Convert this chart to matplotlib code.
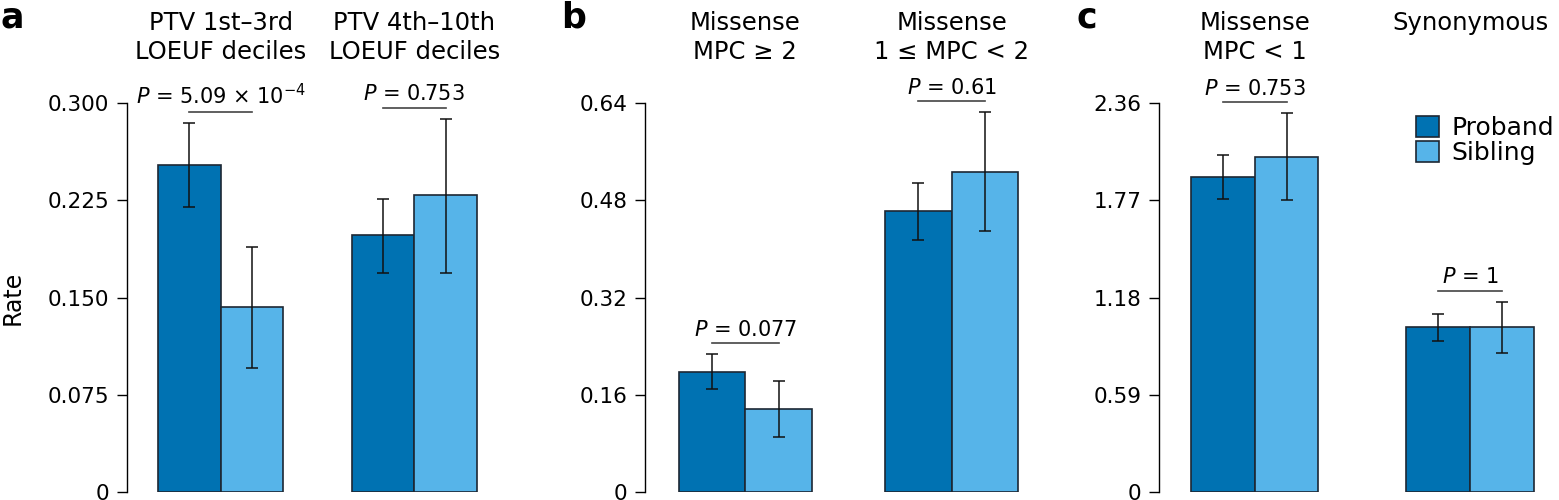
import matplotlib.pyplot as plt
import matplotlib.transforms as mtrans
from matplotlib.patches import Patch
import numpy as np

plt.rcParams['font.family'] = ['DejaVu Sans']
plt.rcParams['mathtext.fontset'] = 'dejavusans'

# ---- data ----
titles_a = ['PTV 1st\u20133rd\nLOEUF deciles', 'PTV 4th\u201310th\nLOEUF deciles']
proband_a = [0.252, 0.198]
proband_a_lo = [0.220, 0.169]
proband_a_hi = [0.285, 0.226]
sibling_a = [0.143, 0.229]
sibling_a_lo = [0.096, 0.169]
sibling_a_hi = [0.189, 0.288]
pvals_a = ['$P$ = 5.09 \u00d7 10$^{-4}$', '$P$ = 0.753']
yticks_a = ['0', '0.075', '0.150', '0.225', '0.300']

titles_b = ['Missense\nMPC \u2265 2', 'Missense\n1 \u2264 MPC < 2']
proband_b = [0.198, 0.462]
proband_b_lo = [0.170, 0.415]
proband_b_hi = [0.227, 0.509]
sibling_b = [0.137, 0.527]
sibling_b_lo = [0.091, 0.430]
sibling_b_hi = [0.183, 0.625]
pvals_b = ['$P$ = 0.077', '$P$ = 0.61']
yticks_b = ['0', '0.16', '0.32', '0.48', '0.64']

titles_c = ['Missense\nMPC < 1', 'Synonymous']
proband_c = [1.914, 1.000]
proband_c_lo = [1.781, 0.919]
proband_c_hi = [2.048, 1.079]
sibling_c = [2.036, 1.000]
sibling_c_lo = [1.773, 0.846]
sibling_c_hi = [2.301, 1.154]
pvals_c = ['$P$ = 0.753', '$P$ = 1']
yticks_c = ['0', '0.59', '1.18', '1.77', '2.36']

panels = [
    ('a', titles_a, proband_a, proband_a_lo, proband_a_hi, sibling_a, sibling_a_lo, sibling_a_hi, pvals_a, yticks_a),
    ('b', titles_b, proband_b, proband_b_lo, proband_b_hi, sibling_b, sibling_b_lo, sibling_b_hi, pvals_b, yticks_b),
    ('c', titles_c, proband_c, proband_c_lo, proband_c_hi, sibling_c, sibling_c_lo, sibling_c_hi, pvals_c, yticks_c),
]

c_proband = '#0072B2'
c_sibling = '#56B4E9'
edge = '#1d2733'

W, H = 1559, 500
fig = plt.figure(figsize=(W / 100, H / 100), dpi=100)

# layout in pixels: spine x, group centres, bar width (px), letter x
layout = [
    (127, 220.7, 414.3, 62.5, 0),
    (645.3, 745.3, 951.7, 66.7, 561),
    (1159.3, 1254.7, 1470.0, 63.7, 1076),
]
y_top, y_bot = 103.3, 492.0

for i, (letter, titles, pr, pr_lo, pr_hi, sb, sb_lo, sb_hi, pv, ytl) in enumerate(panels):
    spine, c0, c1, bw_px, lx = layout[i]
    unit = c1 - c0
    xl = -(c0 - spine) / unit
    xr = 1.5
    ax = fig.add_axes([spine / W, 1 - y_bot / H, (xr - xl) * unit / W, (y_bot - y_top) / H])
    x = np.arange(len(pr))
    bw = bw_px / unit
    ymax = float(ytl[-1])

    ax.bar(x - bw / 2, pr, bw, color=c_proband, edgecolor=edge, linewidth=1.2, zorder=2)
    ax.bar(x + bw / 2, sb, bw, color=c_sibling, edgecolor=edge, linewidth=1.2, zorder=2)
    pr_a, sb_a = np.array(pr), np.array(sb)
    ax.errorbar(x - bw / 2, pr_a, yerr=[pr_a - np.array(pr_lo), np.array(pr_hi) - pr_a],
                fmt='none', ecolor='#111111', elinewidth=1.1, capsize=4, capthick=1.1, zorder=3)
    ax.errorbar(x + bw / 2, sb_a, yerr=[sb_a - np.array(sb_lo), np.array(sb_hi) - sb_a],
                fmt='none', ecolor='#111111', elinewidth=1.1, capsize=4, capthick=1.1, zorder=3)

    ax.set_xlim(xl, xr)
    ax.set_ylim(0, ymax)
    ax.set_yticks(np.linspace(0, ymax, 5))
    ax.set_yticklabels(ytl)
    ax.set_xticks([])
    for s in ['top', 'right', 'bottom']:
        ax.spines[s].set_visible(False)
    ax.spines['left'].set_linewidth(1.0)
    ax.tick_params(axis='y', direction='out', length=7, width=1.0, pad=6, labelsize=15.5)

    # significance lines + P values
    for g in range(len(pr)):
        top = max(pr_hi[g], sb_hi[g])
        ly = top + 11 / (y_bot - y_top) * ymax
        ax.plot([g - bw / 2, g + bw / 2], [ly, ly], color='#444444', lw=1.2, clip_on=False)
        ax.annotate(pv[g], xy=(g, ly), xytext=(0, 2.5), textcoords='offset points',
                    ha='center', va='bottom', fontsize=15, annotation_clip=False)

    # group titles
    tr = mtrans.blended_transform_factory(ax.transData, fig.transFigure)
    for g, t in enumerate(titles):
        ax.text(g, 1 - 11 / H, t, transform=tr, ha='center', va='top',
                fontsize=17.5, linespacing=1.27)

    fig.text(lx / W, 1 - 1 / H, letter, ha='left', va='top', fontsize=25,
             fontweight='bold')

    if i == 0:
        ax.set_ylabel('Rate', fontsize=17, labelpad=16)
    if i == 2:
        handles = [Patch(facecolor=c_proband, edgecolor=edge, linewidth=1.2),
                   Patch(facecolor=c_sibling, edgecolor=edge, linewidth=1.2)]
        fig.legend(handles, ['Proband', 'Sibling'], loc='upper left',
                   bbox_to_anchor=(1416 / W, 1 - 116 / H), frameon=False,
                   fontsize=18, handlelength=0.9, handleheight=0.9,
                   handletextpad=0.5, labelspacing=0.05, borderpad=0, borderaxespad=0)

fig.savefig('out.png', dpi=100)
